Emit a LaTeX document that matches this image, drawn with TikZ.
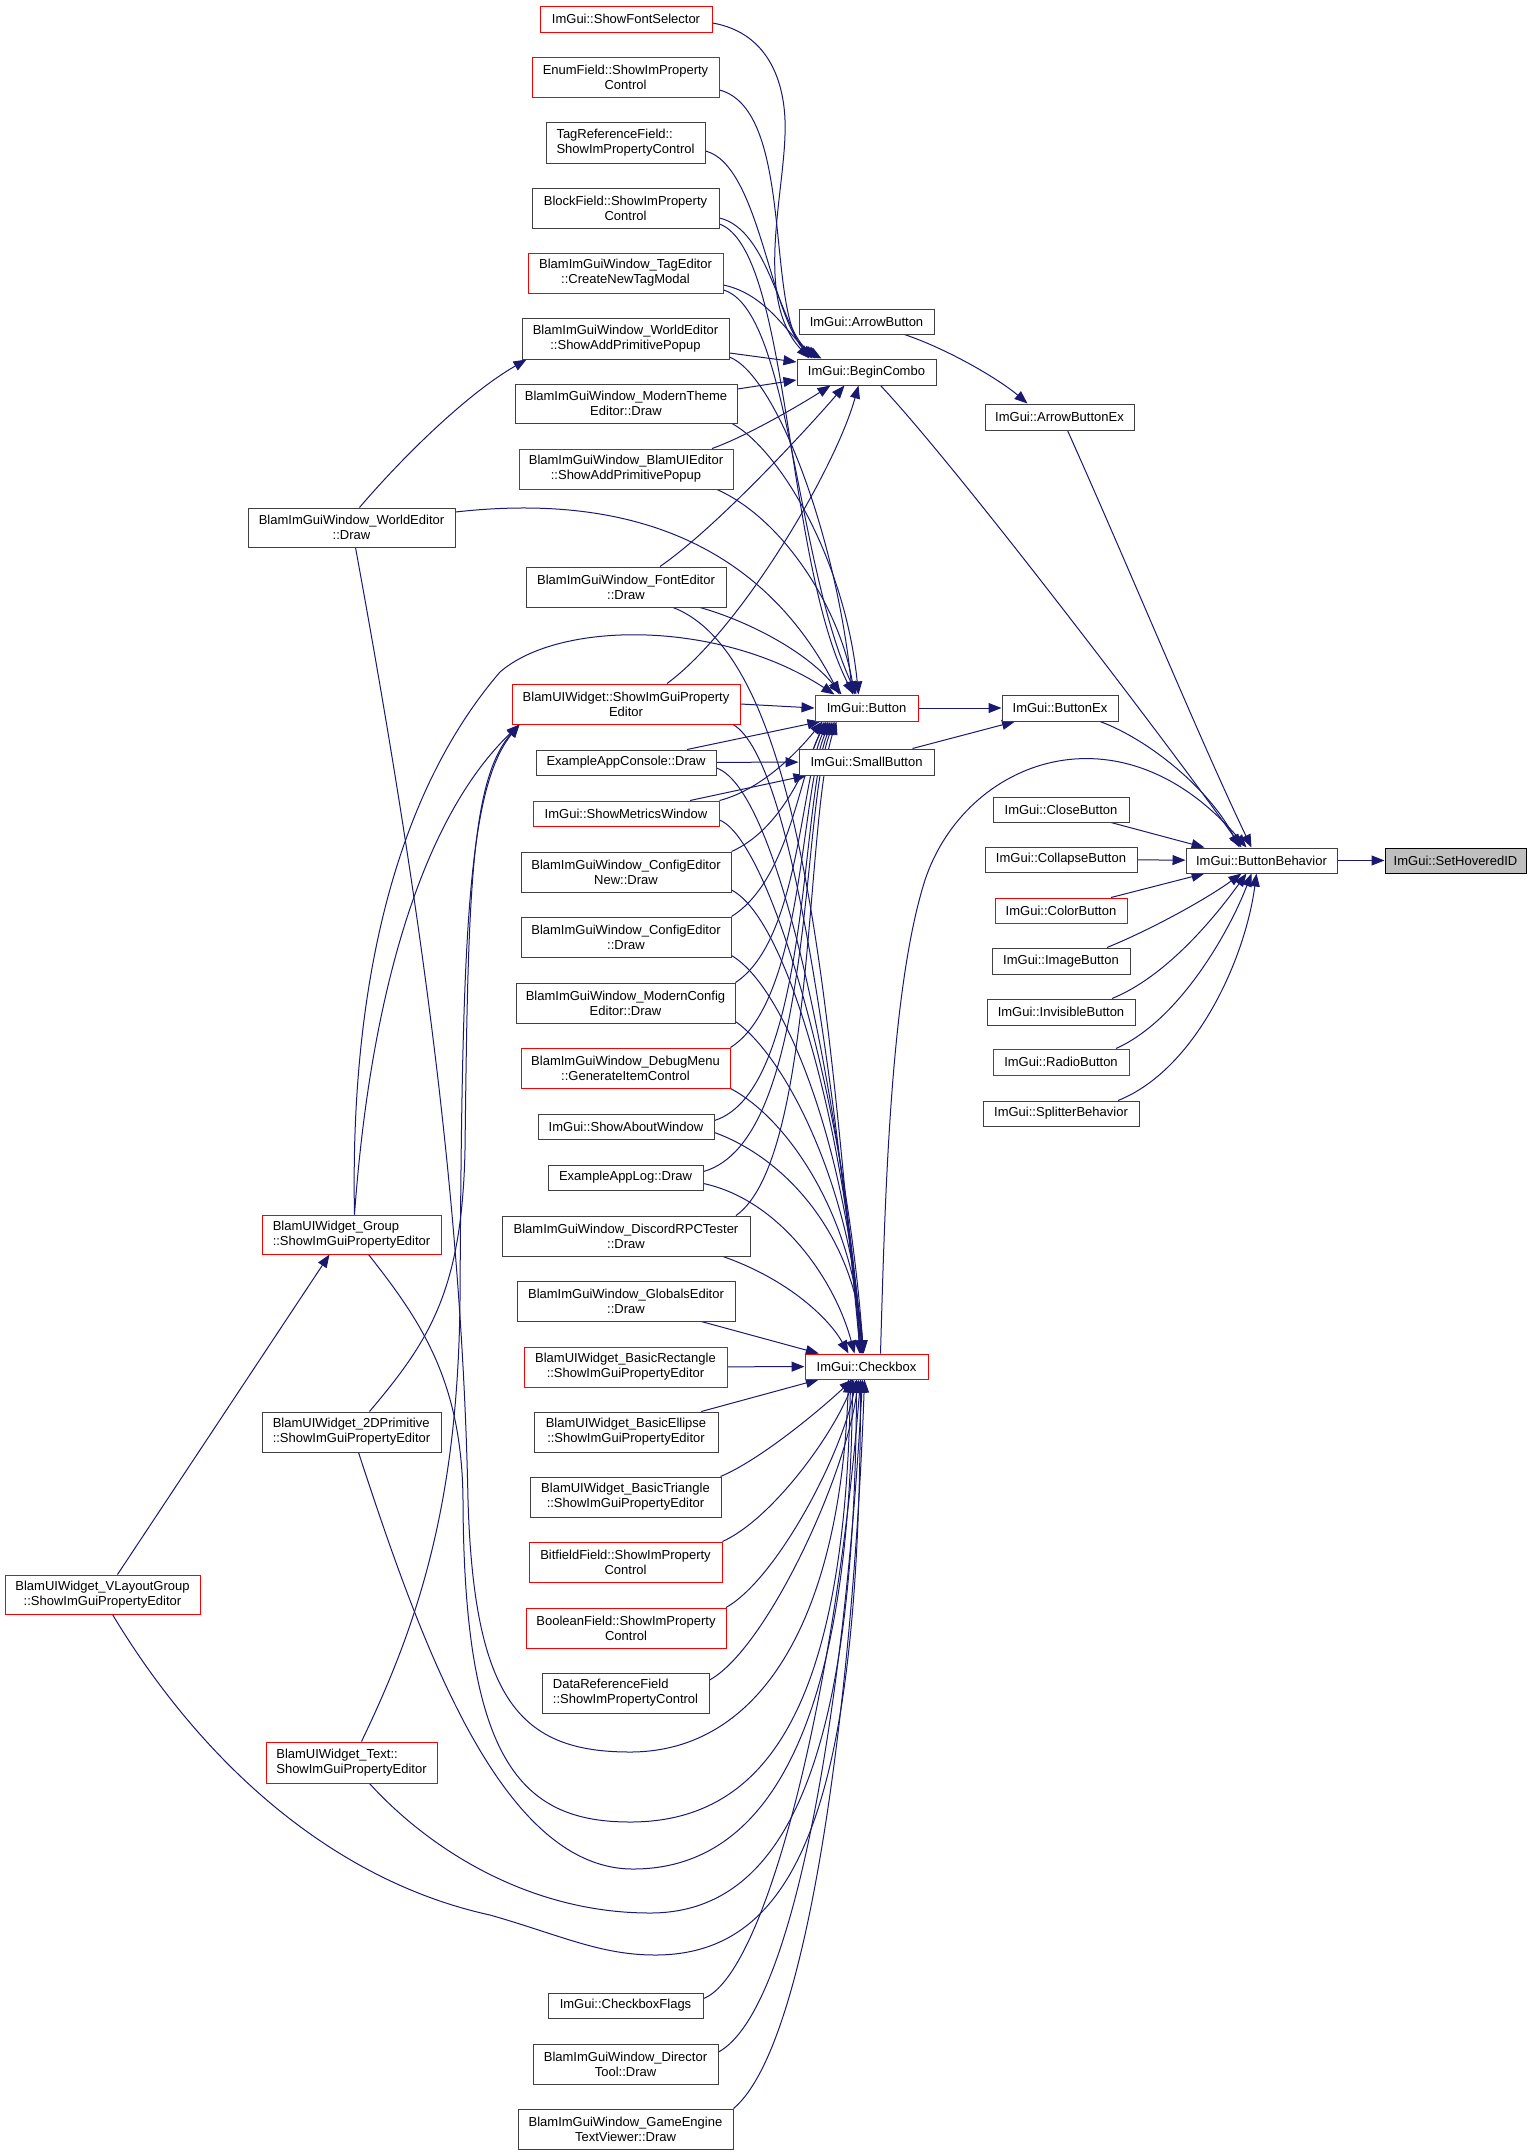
\documentclass[tikz,border=0pt]{standalone}
\usepackage{fontspec}
\setmainfont{Liberation Sans}
\usetikzlibrary{arrows.meta}
\definecolor{edgec}{HTML}{191970}
\definecolor{rootfill}{HTML}{BFBFBF}
\pgfdeclarelayer{background}
\pgfsetlayers{background,main}
\begin{document}
\begin{tikzpicture}[x=1pt,y=-1pt,
  nb/.style={draw=black!75, fill=white, line width=1pt, inner sep=0pt, align=center, rectangle, font=\fontsize{13}{15}\selectfont},
  nr/.style={nb, draw=red},
  root/.style={nb, draw=black, fill=rootfill},
  e/.style={draw=edgec, line width=1pt, -{Triangle[length=13pt,width=10pt]}},
]
\useasboundingbox (0,0) rectangle (1533,2155);
% column 1
\node[nr, minimum width=172pt, minimum height=26pt] (fontsel) at (626,19) {ImGui::ShowFontSelector};
\node[nr, minimum width=187pt, minimum height=40pt] (enumf) at (625.5,77) {EnumField::ShowImProperty\\Control};
\node[nb, align=left, minimum width=159pt, minimum height=41pt] (tagref) at (625.5,142.5) {TagReferenceField::\\ShowImPropertyControl};
\node[nb, minimum width=187pt, minimum height=40pt] (blockf) at (625.5,208) {BlockField::ShowImProperty\\Control};
\node[nr, minimum width=195pt, minimum height=40pt] (tagedit) at (625.5,273) {BlamImGuiWindow\_TagEditor\\::CreateNewTagModal};
\node[nb, minimum width=207pt, minimum height=41pt] (wepopup) at (625.5,338.5) {BlamImGuiWindow\_WorldEditor\\::ShowAddPrimitivePopup};
\node[nb, minimum width=222pt, minimum height=39pt] (mtheme) at (626,403.5) {BlamImGuiWindow\_ModernTheme\\Editor::Draw};
\node[nr, minimum width=214pt, minimum height=40pt] (uipopup) at (626,469) {BlamImGuiWindow\_BlamUIEditor\\::ShowAddPrimitivePopup};
\node[nb, minimum width=200pt, minimum height=40pt] (fonted) at (626,587) {BlamImGuiWindow\_FontEditor\\::Draw};
\node[nr, minimum width=228pt, minimum height=40pt] (uiwidget) at (626,704) {BlamUIWidget::ShowImGuiProperty\\Editor};
\node[nb, minimum width=180pt, minimum height=25pt] (console) at (626,762.5) {ExampleAppConsole::Draw};
\node[nr, minimum width=186pt, minimum height=25pt] (metrics) at (626,813.5) {ImGui::ShowMetricsWindow};
\node[nb, minimum width=210pt, minimum height=40pt] (cfgnew) at (626,872) {BlamImGuiWindow\_ConfigEditor\\New::Draw};
\node[nb, minimum width=210pt, minimum height=40pt] (cfg) at (626,937) {BlamImGuiWindow\_ConfigEditor\\::Draw};
\node[nb, minimum width=219pt, minimum height=40pt] (mcfg) at (625.5,1003) {BlamImGuiWindow\_ModernConfig\\Editor::Draw};
\node[nr, minimum width=209pt, minimum height=40pt] (debug) at (625.5,1068) {BlamImGuiWindow\_DebugMenu\\::GenerateItemControl};
\node[nb, minimum width=176pt, minimum height=25pt] (about) at (626,1126.5) {ImGui::ShowAboutWindow};
\node[nb, minimum width=155pt, minimum height=25pt] (applog) at (625.5,1177.5) {ExampleAppLog::Draw};
\node[nb, minimum width=248pt, minimum height=40pt] (discord) at (626,1236) {BlamImGuiWindow\_DiscordRPCTester\\::Draw};
\node[nb, minimum width=218pt, minimum height=40pt] (globals) at (626,1301) {BlamImGuiWindow\_GlobalsEditor\\::Draw};
\node[nr, minimum width=203pt, minimum height=40pt] (rect) at (625.5,1367) {BlamUIWidget\_BasicRectangle\\::ShowImGuiPropertyEditor};
\node[nb, minimum width=184pt, minimum height=40pt] (ellipse) at (626,1432) {BlamUIWidget\_BasicEllipse\\::ShowImGuiPropertyEditor};
\node[nb, minimum width=191pt, minimum height=40pt] (tri) at (625.5,1497) {BlamUIWidget\_BasicTriangle\\::ShowImGuiPropertyEditor};
\node[nr, minimum width=193pt, minimum height=40pt] (bitf) at (625.5,1562) {BitfieldField::ShowImProperty\\Control};
\node[nr, minimum width=200pt, minimum height=40pt] (boolf) at (626,1628) {BooleanField::ShowImProperty\\Control};
\node[nb, align=left, minimum width=167pt, minimum height=40pt] (dataref) at (625.5,1693) {DataReferenceField\\::ShowImPropertyControl};
\node[nb, minimum width=155pt, minimum height=25pt] (cbflags) at (625.5,2005.5) {ImGui::CheckboxFlags};
\node[nb, minimum width=185pt, minimum height=40pt] (director) at (625.5,2064) {BlamImGuiWindow\_Director\\Tool::Draw};
\node[nb, minimum width=215pt, minimum height=40pt] (gameeng) at (625.5,2129) {BlamImGuiWindow\_GameEngine\\TextViewer::Draw};
% column 0 / -1
\node[nb, minimum width=207pt, minimum height=39pt] (weDraw) at (351.5,527.5) {BlamImGuiWindow\_WorldEditor\\::Draw};
\node[nr, align=left, minimum width=179pt, minimum height=39pt] (group) at (351.5,1234.5) {BlamUIWidget\_Group\\::ShowImGuiPropertyEditor};
\node[nb, align=left, minimum width=179pt, minimum height=40pt] (prim2d) at (351.5,1432) {BlamUIWidget\_2DPrimitive\\::ShowImGuiPropertyEditor};
\node[nr, align=left, minimum width=171pt, minimum height=41pt] (text) at (351.5,1762.5) {BlamUIWidget\_Text::\\ShowImGuiPropertyEditor};
\node[nr, minimum width=195pt, minimum height=39pt] (vlayout) at (102.5,1594.5) {BlamUIWidget\_VLayoutGroup\\::ShowImGuiPropertyEditor};
% column 2
\node[nb, minimum width=135pt, minimum height=25pt] (arrowbtn) at (866.5,321.5) {ImGui::ArrowButton};
\node[nb, minimum width=139pt, minimum height=26pt] (combo) at (866.5,372) {ImGui::BeginCombo};
\node[nr, minimum width=103pt, minimum height=26pt] (button) at (866.5,708) {ImGui::Button};
\node[nb, minimum width=135pt, minimum height=26pt] (smallbtn) at (866.5,762) {ImGui::SmallButton};
\node[nr, minimum width=123pt, minimum height=25pt] (checkbox) at (866.5,1366.5) {ImGui::Checkbox};
% column 3
\node[nb, minimum width=149pt, minimum height=26pt] (arrowex) at (1059.5,417) {ImGui::ArrowButtonEx};
\node[nb, minimum width=116pt, minimum height=26pt] (buttonex) at (1060,708) {ImGui::ButtonEx};
\node[nb, minimum width=136pt, minimum height=25pt] (close) at (1061,809.5) {ImGui::CloseButton};
\node[nb, minimum width=152pt, minimum height=25pt] (collapse) at (1061,859.5) {ImGui::CollapseButton};
\node[nr, minimum width=132pt, minimum height=25pt] (color) at (1061,910.5) {ImGui::ColorButton};
\node[nb, minimum width=138pt, minimum height=26pt] (image) at (1061,961) {ImGui::ImageButton};
\node[nb, minimum width=148pt, minimum height=26pt] (invisible) at (1061,1012) {ImGui::InvisibleButton};
\node[nr, minimum width=136pt, minimum height=26pt] (radio) at (1061,1062) {ImGui::RadioButton};
\node[nb, minimum width=156pt, minimum height=25pt] (splitter) at (1061,1113.5) {ImGui::SplitterBehavior};
% columns 4, 5
\node[nb, minimum width=151pt, minimum height=25pt] (behavior) at (1261.5,860.5) {ImGui::ButtonBehavior};
\node[root, minimum width=141pt, minimum height=25pt] (sethov) at (1455.5,860.5) {ImGui::SetHoveredID};

\begin{pgfonlayer}{background}
% into BeginCombo
\draw[e] ([yshift=-4pt]fontsel.east) .. controls (770,33) and (787,85) .. (785,135) .. controls (783,200) and (755,300) .. ([xshift=-57pt]combo.north);
\draw[e] ([yshift=-13pt]enumf.east) .. controls (795,110) and (765,310) .. ([xshift=-54pt]combo.north);
\draw[e] ([yshift=-8.5pt]tagref.east) .. controls (760,165) and (770,320) .. ([xshift=-51pt]combo.north);
\draw[e] ([yshift=-10pt]blockf.east) .. controls (770,230) and (780,330) .. ([xshift=-48pt]combo.north);
\draw[e] ([yshift=-12pt]tagedit.east) .. controls (770,295) and (790,340) .. ([xshift=-45pt]combo.north);
\draw[e] ([yshift=-14.5pt]wepopup.east) -- ([yshift=10pt]combo.west);
\draw[e] ([yshift=14.5pt]mtheme.east) -- ([yshift=-8pt]combo.west);
\draw[e] ([xshift=86pt]uipopup.north) .. controls (745,437) and (800,405) .. ([xshift=-36pt]combo.south);
\draw[e] ([xshift=34pt]fonted.north) .. controls (720,525) and (815,420) .. ([xshift=-22pt]combo.south);
\draw[e] ([xshift=41pt]uiwidget.north) .. controls (740,630) and (835,470) .. ([xshift=-8pt]combo.south);
% right part
\draw[e] ([xshift=14pt]combo.south) .. controls (960,470) and (1180,760) .. ([xshift=-20pt]behavior.north);
\draw[e] ([xshift=38pt]arrowbtn.south) .. controls (950,350) and (1000,380) .. ([xshift=-32pt]arrowex.north);
\draw[e] ([xshift=8pt]arrowex.south) .. controls (1130,570) and (1200,740) .. ([xshift=-10pt]behavior.north);
\draw[e] (button) -- (buttonex);
\draw[e] ([xshift=46pt]smallbtn.north) -- ([xshift=-45pt]buttonex.south);
\draw[e] ([xshift=40pt]buttonex.south) .. controls (1150,740) and (1210,790) .. ([xshift=-22pt]behavior.north);
\draw[e] ([xshift=50pt]close.south) -- ([xshift=-57pt]behavior.north);
\draw[e] (collapse) -- (behavior);
\draw[e] ([xshift=50pt]color.north) -- ([xshift=-57pt]behavior.south);
\draw[e] ([xshift=46pt]image.north) .. controls (1150,930) and (1205,900) .. ([xshift=-20pt]behavior.south);
\draw[e] ([xshift=51pt]invisible.north) .. controls (1170,975) and (1220,910) .. ([xshift=-15pt]behavior.south);
\draw[e] ([xshift=55pt]radio.north) .. controls (1180,1020) and (1230,930) .. ([xshift=-10pt]behavior.south);
\draw[e] ([xshift=57pt]splitter.north) .. controls (1195,1070) and (1245,960) .. ([xshift=-5pt]behavior.south);
\draw[e] (behavior) -- (sethov);
\draw[e] ([xshift=14pt]checkbox.north) .. controls (885,1200) and (890,990) .. (925,880) .. controls (965,760) and (1120,700) .. ([xshift=-15pt]behavior.north);
% into Button
\draw[e] ([yshift=-16pt]blockf.east) .. controls (790,250) and (785,560) .. ([xshift=-13pt]button.north);
\draw[e] ([yshift=-17pt]tagedit.east) .. controls (790,310) and (795,560) .. ([xshift=-10pt]button.north);
\draw[e] ([yshift=-18.5pt]wepopup.east) .. controls (775,375) and (835,530) .. ([xshift=-14pt]button.north);
\draw[e] ([xshift=106pt]mtheme.south) .. controls (780,450) and (845,560) .. ([xshift=-8pt]button.north);
\draw[e] ([xshift=91pt]uipopup.south) .. controls (785,520) and (840,610) .. ([xshift=-12pt]button.north);
\draw[e] ([yshift=15.5pt]weDraw.east) .. controls (650,490) and (770,560) .. ([xshift=-27pt]button.north);
\draw[e] ([xshift=74pt]fonted.south) .. controls (745,620) and (805,650) .. ([xshift=-25pt]button.north);
\draw[e] (uiwidget.east) -- (button.west);
\draw[e] ([xshift=3pt]group.north) .. controls (350,1000) and (390,800) .. (500,672) .. controls (560,620) and (720,620) .. ([xshift=-32pt]button.north);
\draw[e] ([xshift=61pt]console.north) -- ([xshift=-46pt]button.south);
\draw[e] (metrics.north east) .. controls (760,790) and (795,755) .. ([xshift=-44pt]button.south);
\draw[e] (cfgnew.north east) .. controls (780,830) and (805,770) .. ([xshift=-42pt]button.south);
\draw[e] (cfg.north east) .. controls (790,880) and (800,770) .. ([xshift=-40pt]button.south);
\draw[e] (mcfg.north east) .. controls (800,940) and (800,780) .. ([xshift=-38pt]button.south);
\draw[e] (debug.north east) .. controls (805,1000) and (800,790) .. ([xshift=-36pt]button.south);
\draw[e] ([yshift=6pt]about.east) .. controls (810,1090) and (800,800) .. ([xshift=-34pt]button.south);
\draw[e] ([yshift=6pt]applog.east) .. controls (815,1140) and (800,810) .. ([xshift=-32pt]button.south);
\draw[e] ([xshift=110pt]discord.north) .. controls (815,1160) and (805,820) .. ([xshift=-30pt]button.south);
% SmallButton
\draw[e] (console) -- (smallbtn);
\draw[e] ([xshift=64pt]metrics.north) -- ([xshift=8pt]smallbtn.south west);
% into Checkbox from above
\draw[e] ([xshift=47pt]fonted.south) .. controls (810,660) and (830,1050) .. ([xshift=-6pt]checkbox.north);
\draw[e] ([xshift=107pt]uiwidget.south) .. controls (795,760) and (835,1100) .. ([xshift=-5pt]checkbox.north);
\draw[e] ([yshift=-5.5pt]console.east) .. controls (780,790) and (840,1100) .. ([xshift=-4pt]checkbox.north);
\draw[e] ([yshift=-6.5pt]metrics.east) .. controls (770,840) and (845,1100) .. ([xshift=-3pt]checkbox.north);
\draw[e] ([yshift=-18pt]cfgnew.east) .. controls (790,920) and (850,1150) .. ([xshift=-7pt]checkbox.north);
\draw[e] ([yshift=2pt]cfg.south east) .. controls (790,990) and (852,1170) .. ([xshift=-6pt]checkbox.north);
\draw[e] ([yshift=2pt]mcfg.south east) .. controls (790,1060) and (855,1200) .. ([xshift=-5pt]checkbox.north);
\draw[e] (debug.south east) .. controls (790,1120) and (855,1220) .. ([xshift=-4pt]checkbox.north);
\draw[e] ([yshift=-6pt]about.east) .. controls (790,1160) and (855,1240) .. ([xshift=-3pt]checkbox.north);
\draw[e] ([yshift=-6pt]applog.east) .. controls (780,1200) and (835,1280) .. ([xshift=-12pt]checkbox.north);
\draw[e] ([xshift=97pt]discord.south) .. controls (790,1280) and (830,1320) .. ([xshift=-18pt]checkbox.north);
\draw[e] (globals) -- (checkbox);
\draw[e] (rect) -- (checkbox);
\draw[e] (ellipse) -- (checkbox);
% into Checkbox from below
\draw[e] ([xshift=95pt]tri.north) .. controls (760,1460) and (820,1410) .. ([xshift=-14pt]checkbox.south);
\draw[e] ([xshift=97pt]bitf.north) .. controls (770,1520) and (830,1440) .. ([xshift=-12pt]checkbox.south);
\draw[e] ([xshift=100pt]boolf.north) .. controls (775,1580) and (840,1460) .. ([xshift=-10pt]checkbox.south);
\draw[e] ([yshift=13pt]dataref.east) .. controls (765,1650) and (845,1480) .. ([xshift=-8pt]checkbox.south);
\draw[e] ([yshift=7pt]cbflags.east) .. controls (765,1975) and (835,1700) .. ([xshift=-6pt]checkbox.south);
\draw[e] ([yshift=12pt]director.east) .. controls (795,2010) and (845,1700) .. ([xshift=-4pt]checkbox.south);
\draw[e] (gameeng.north east) .. controls (815,2040) and (855,1650) .. ([xshift=-2pt]checkbox.south);
\draw[e] ([xshift=4pt]weDraw.south) .. controls (420,900) and (462,1200) .. (468,1500) .. controls (474,1700) and (520,1752) .. (630,1752) .. controls (760,1752) and (840,1620) .. ([xshift=-18pt]checkbox.south);
\draw[e] ([xshift=17pt]group.south) .. controls (420,1320) and (462,1380) .. (463,1500) .. controls (464,1760) and (520,1822) .. (630,1822) .. controls (770,1822) and (845,1700) .. ([xshift=-16pt]checkbox.south);
\draw[e] ([xshift=7pt]prim2d.south) .. controls (420,1640) and (500,1869) .. (633,1869) .. controls (780,1869) and (850,1700) .. ([xshift=-14pt]checkbox.south);
\draw[e] ([xshift=18pt]text.south) .. controls (430,1850) and (530,1913) .. (650,1913) .. controls (790,1913) and (855,1750) .. ([xshift=-10pt]checkbox.south);
\draw[e] ([xshift=10pt]vlayout.south) .. controls (200,1760) and (330,1880) .. (490,1915) .. controls (560,1935) and (600,1955) .. (655,1955) .. controls (800,1955) and (860,1800) .. ([xshift=-6pt]checkbox.south);
% left part
\draw[e] ([xshift=8pt]weDraw.north) .. controls (400,460) and (465,395) .. ([xshift=5pt]wepopup.south west);
\draw[e] ([xshift=3pt]group.north) .. controls (370,1000) and (420,820) .. ([xshift=8pt]uiwidget.south west);
\draw[e] ([xshift=18pt]prim2d.north) .. controls (430,1340) and (462,1290) .. (465,1150) .. controls (468,900) and (470,780) .. ([xshift=8pt]uiwidget.south west);
\draw[e] ([xshift=10pt]text.north) .. controls (420,1620) and (458,1500) .. (460,1300) .. controls (462,950) and (466,790) .. ([xshift=8pt]uiwidget.south west);
\draw[e] ([xshift=15pt]vlayout.north) -- ([xshift=68pt]group.south west);
\end{pgfonlayer}
\end{tikzpicture}
\end{document}
